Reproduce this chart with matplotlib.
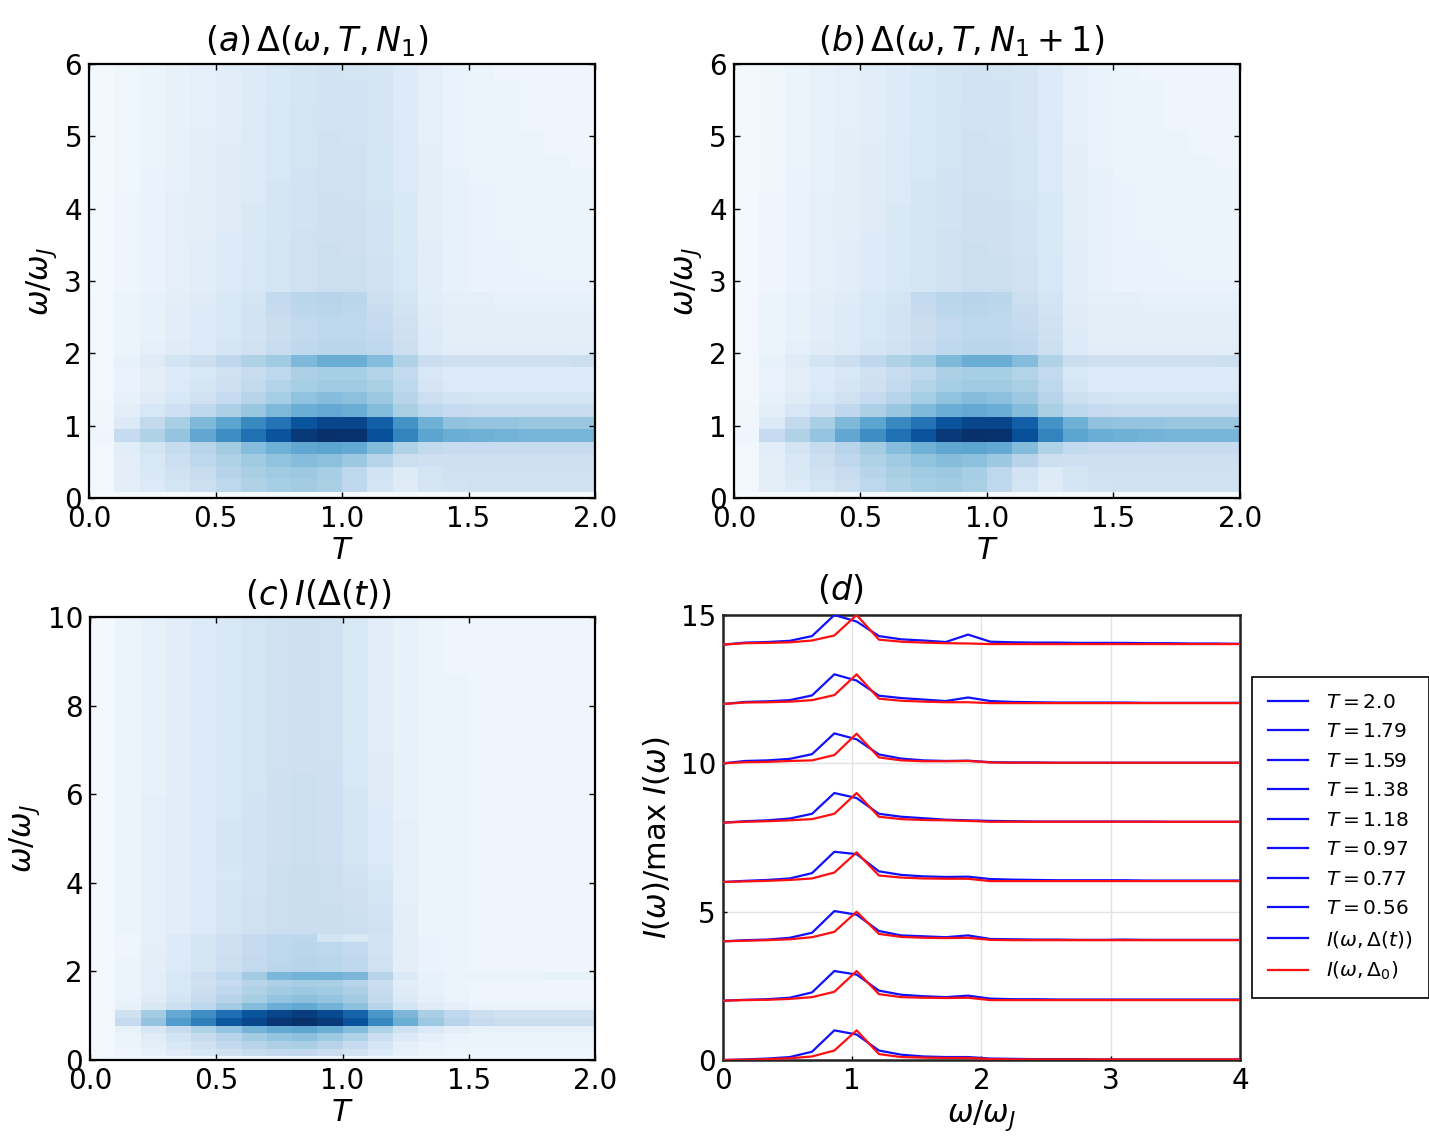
import numpy as np
import matplotlib
matplotlib.use('Agg')
import matplotlib.pyplot as plt
from matplotlib.lines import Line2D

plt.rcParams['font.family'] = ['DejaVu Sans']
plt.rcParams['mathtext.fontset'] = 'dejavusans'

# frequency step of the spectra (omega / omega_J)
d_omega = 0.1724
# temperature bins of the maps
T_edges = np.linspace(0.0, 2.0, 21)

# Delta(omega, T, N1): rows = omega bins (from 0 upward), columns = T bins, in % of max
delta_a = [
    [1, 1, 1, 1, 1, 1, 1, 1, 1, 1, 1, 1, 1, 1, 1, 1, 1, 1, 1, 1],
    [3, 10, 14, 18, 22, 28, 32, 35, 36, 34, 27, 18, 12, 17, 19, 20, 20, 20, 20, 20],
    [3, 10, 15, 20, 24, 30, 34, 37, 38, 35, 28, 19, 13, 18, 20, 20, 20, 20, 20, 20],
    [3, 10, 16, 22, 27, 32, 37, 41, 43, 42, 38, 30, 22, 21, 21, 21, 21, 21, 21, 21],
    [3, 11, 18, 24, 30, 36, 43, 49, 53, 54, 52, 44, 32, 26, 24, 24, 24, 24, 24, 24],
    [5, 25, 32, 40, 53, 64, 75, 86, 96, 100, 99, 88, 68, 54, 50, 49, 48, 47, 47, 47],
    [4, 14, 26, 34, 45, 54, 66, 74, 86, 92, 92, 82, 62, 49, 41, 40, 40, 39, 39, 39],
    [4, 10, 16, 21, 27, 33, 39, 45, 50, 52, 50, 44, 34, 28, 25, 24, 24, 24, 24, 24],
    [3, 8, 12, 16, 20, 25, 30, 35, 41, 43, 42, 38, 30, 22, 19, 18, 18, 18, 18, 18],
    [3, 7, 10, 14, 17, 21, 26, 31, 35, 37, 37, 34, 28, 17, 14, 14, 14, 14, 14, 14],
    [3, 7, 10, 13, 16, 20, 24, 28, 33, 35, 35, 31, 26, 16, 13, 13, 13, 13, 13, 13],
    [3, 8, 12, 18, 22, 27, 32, 37, 45, 50, 50, 44, 32, 23, 21, 21, 21, 21, 21, 22],
    [3, 6, 9, 12, 14, 17, 20, 24, 27, 29, 29, 27, 22, 13, 11, 11, 11, 11, 11, 11],
    [3, 6, 8, 11, 13, 16, 19, 23, 26, 28, 28, 26, 21, 13, 10, 10, 10, 10, 10, 10],
    [3, 6, 8, 11, 13, 16, 19, 23, 26, 28, 27, 25, 20, 12, 10, 10, 10, 10, 10, 10],
    [3, 6, 8, 11, 13, 16, 19, 24, 28, 29, 28, 24, 19, 12, 10, 10, 9, 9, 9, 9],
    [3, 6, 8, 10, 12, 15, 18, 26, 29, 30, 29, 22, 18, 11, 9, 9, 8, 8, 8, 8],
    [2, 5, 7, 9, 11, 13, 16, 18, 20, 22, 22, 20, 16, 11, 8, 7, 7, 7, 7, 7],
    [2, 5, 7, 9, 11, 13, 16, 18, 20, 22, 22, 20, 16, 11, 8, 7, 7, 7, 6, 6],
    [2, 5, 7, 9, 11, 13, 15, 18, 20, 22, 22, 20, 16, 11, 8, 7, 7, 6, 6, 6],
    [2, 5, 7, 9, 11, 13, 15, 18, 20, 22, 21, 19, 15, 11, 8, 7, 7, 6, 6, 6],
    [2, 5, 7, 9, 10, 13, 15, 17, 20, 21, 21, 19, 15, 10, 8, 7, 6, 6, 6, 6],
    [2, 5, 7, 9, 10, 12, 15, 17, 19, 21, 21, 19, 15, 10, 8, 7, 6, 6, 6, 6],
    [2, 5, 7, 9, 10, 12, 15, 17, 19, 21, 21, 19, 15, 10, 8, 7, 6, 6, 6, 6],
    [2, 5, 7, 9, 10, 12, 14, 17, 19, 21, 20, 18, 15, 10, 8, 7, 6, 6, 6, 6],
    [2, 4, 7, 8, 10, 12, 14, 17, 19, 20, 20, 18, 14, 10, 8, 7, 6, 6, 6, 6],
    [2, 4, 7, 8, 10, 12, 14, 16, 19, 20, 20, 18, 14, 10, 8, 6, 6, 6, 6, 6],
    [2, 4, 6, 8, 10, 12, 14, 16, 18, 20, 20, 18, 14, 10, 7, 6, 6, 6, 6, 5],
    [2, 4, 6, 8, 10, 12, 14, 16, 18, 20, 20, 18, 14, 10, 7, 6, 6, 6, 5, 5],
    [2, 4, 6, 8, 10, 11, 14, 16, 18, 20, 19, 17, 14, 9, 7, 6, 6, 6, 5, 5],
    [2, 4, 6, 8, 9, 11, 13, 16, 18, 19, 19, 17, 14, 9, 7, 6, 6, 5, 5, 5],
    [2, 4, 6, 8, 9, 11, 13, 16, 18, 19, 19, 17, 13, 9, 7, 6, 6, 5, 5, 5],
    [2, 4, 6, 8, 9, 11, 13, 15, 17, 19, 19, 17, 13, 9, 7, 6, 6, 5, 5, 5],
    [2, 4, 6, 8, 9, 11, 13, 15, 17, 19, 19, 17, 13, 9, 7, 6, 6, 5, 5, 5],
    [2, 4, 6, 8, 9, 11, 13, 15, 17, 19, 18, 17, 13, 9, 7, 6, 5, 5, 5, 5],
    [2, 4, 6, 8, 9, 11, 13, 15, 17, 18, 18, 16, 13, 9, 7, 6, 5, 5, 5, 5],
]

# Delta(omega, T, N1+1): reads the same as panel (a) in the picture
delta_b = [row[:] for row in delta_a]

# I(Delta(t)): rows = omega bins up to 10, columns = T bins, in % of max
intensity_c = [
    [2, 3, 3, 3, 3, 3, 3, 3, 3, 3, 3, 3, 3, 2, 2, 2, 2, 2, 2, 2],
    [2, 5, 8, 12, 16, 20, 24, 26, 26, 23, 19, 13, 8, 6, 5, 5, 5, 5, 5, 5],
    [2, 6, 10, 15, 20, 26, 30, 33, 34, 30, 25, 17, 10, 7, 6, 6, 6, 6, 6, 6],
    [2, 6, 12, 18, 24, 30, 36, 40, 42, 38, 32, 22, 14, 9, 7, 6, 6, 6, 6, 6],
    [2, 8, 16, 24, 32, 40, 48, 52, 54, 50, 44, 32, 20, 14, 10, 8, 8, 8, 8, 8],
    [3, 25, 40, 58, 70, 85, 92, 98, 100, 96, 87, 66, 50, 38, 30, 25, 23, 23, 23, 23],
    [3, 20, 36, 52, 64, 76, 86, 92, 95, 90, 80, 60, 46, 34, 27, 22, 20, 20, 20, 20],
    [2, 8, 15, 22, 28, 36, 44, 50, 52, 48, 42, 30, 18, 12, 9, 7, 7, 7, 7, 7],
    [2, 7, 12, 18, 24, 30, 35, 40, 42, 40, 36, 26, 14, 9, 7, 5, 5, 5, 5, 5],
    [2, 6, 11, 16, 22, 27, 32, 36, 38, 37, 33, 24, 12, 8, 6, 5, 5, 5, 5, 5],
    [2, 6, 10, 15, 20, 25, 30, 33, 35, 34, 30, 22, 11, 8, 6, 5, 5, 5, 5, 5],
    [2, 6, 11, 16, 22, 27, 36, 46, 48, 48, 46, 30, 14, 8, 7, 7, 7, 7, 8, 8],
    [2, 6, 10, 14, 18, 22, 26, 29, 30, 29, 27, 20, 10, 7, 6, 5, 5, 5, 5, 5],
    [2, 6, 10, 14, 18, 22, 26, 28, 30, 29, 27, 20, 10, 7, 6, 5, 5, 5, 5, 5],
    [2, 5, 10, 13, 17, 21, 25, 28, 29, 28, 26, 19, 10, 7, 6, 5, 5, 5, 5, 5],
    [2, 5, 9, 13, 17, 21, 25, 27, 29, 28, 26, 19, 10, 7, 6, 5, 5, 5, 5, 5],
    [2, 5, 9, 13, 17, 21, 25, 27, 28, 18, 15, 19, 10, 7, 6, 5, 5, 5, 5, 5],
    [2, 6, 9, 11, 14, 17, 20, 22, 23, 23, 22, 20, 10, 6, 6, 5, 5, 5, 5, 5],
    [2, 6, 9, 11, 14, 17, 20, 22, 23, 23, 22, 20, 10, 6, 6, 5, 5, 5, 5, 5],
    [2, 6, 9, 11, 14, 17, 20, 22, 23, 23, 22, 19, 10, 6, 6, 5, 5, 5, 5, 5],
    [2, 6, 9, 11, 14, 17, 20, 22, 23, 23, 21, 19, 10, 6, 6, 5, 5, 5, 5, 5],
    [2, 6, 9, 11, 14, 17, 20, 22, 23, 22, 21, 18, 9, 6, 6, 5, 5, 5, 5, 5],
    [2, 6, 9, 11, 14, 17, 19, 22, 23, 22, 21, 18, 9, 6, 6, 5, 5, 5, 5, 5],
    [2, 6, 9, 11, 14, 17, 19, 22, 23, 22, 20, 17, 9, 6, 6, 5, 5, 5, 5, 5],
    [2, 6, 9, 11, 14, 16, 19, 22, 23, 22, 20, 16, 9, 6, 6, 5, 5, 5, 5, 5],
    [2, 6, 9, 11, 14, 16, 19, 22, 23, 22, 19, 15, 9, 6, 6, 5, 5, 5, 5, 5],
    [2, 6, 9, 11, 14, 17, 19, 21, 22, 21, 18, 14, 9, 6, 6, 5, 5, 5, 5, 5],
    [2, 6, 9, 11, 14, 17, 19, 21, 22, 21, 18, 14, 9, 6, 6, 5, 5, 5, 5, 5],
    [2, 6, 9, 11, 14, 17, 19, 21, 22, 21, 18, 14, 9, 6, 6, 5, 5, 5, 5, 5],
    [2, 6, 9, 11, 14, 17, 19, 21, 22, 21, 18, 13, 9, 6, 6, 5, 5, 5, 5, 5],
    [2, 6, 9, 11, 14, 17, 19, 21, 22, 21, 17, 13, 9, 6, 6, 5, 5, 5, 5, 5],
    [2, 6, 9, 11, 14, 17, 19, 21, 22, 21, 17, 13, 9, 6, 6, 5, 5, 5, 5, 5],
    [2, 6, 9, 11, 14, 16, 19, 21, 22, 21, 17, 13, 8, 6, 6, 5, 5, 5, 5, 5],
    [2, 6, 9, 11, 14, 16, 19, 21, 22, 21, 17, 13, 8, 6, 6, 5, 5, 5, 5, 5],
    [2, 6, 9, 11, 14, 16, 19, 21, 22, 21, 17, 12, 8, 6, 6, 5, 5, 5, 5, 5],
    [2, 6, 8, 11, 14, 16, 18, 21, 22, 21, 17, 12, 8, 6, 6, 5, 5, 5, 5, 5],
    [2, 6, 8, 11, 14, 16, 18, 21, 22, 21, 16, 12, 8, 6, 6, 5, 5, 5, 5, 5],
    [2, 6, 8, 11, 13, 16, 18, 21, 22, 21, 16, 12, 8, 6, 6, 5, 5, 5, 5, 5],
    [2, 6, 8, 11, 13, 16, 18, 20, 21, 21, 16, 12, 8, 6, 6, 5, 5, 5, 5, 5],
    [2, 6, 8, 11, 13, 16, 18, 20, 21, 20, 16, 12, 8, 6, 6, 5, 5, 5, 5, 5],
    [2, 6, 8, 11, 13, 16, 18, 20, 21, 20, 16, 12, 8, 6, 6, 5, 5, 5, 5, 5],
    [2, 6, 8, 11, 13, 16, 18, 20, 21, 20, 16, 11, 8, 6, 6, 5, 5, 5, 5, 5],
    [2, 6, 8, 11, 13, 16, 18, 20, 21, 20, 15, 11, 8, 6, 6, 5, 5, 5, 5, 5],
    [2, 6, 8, 11, 13, 16, 18, 20, 21, 20, 15, 11, 8, 6, 6, 5, 5, 5, 5, 5],
    [2, 6, 8, 11, 13, 16, 18, 20, 21, 20, 15, 11, 8, 6, 6, 5, 5, 5, 5, 5],
    [2, 6, 8, 11, 13, 16, 18, 20, 21, 20, 15, 11, 8, 6, 6, 5, 5, 5, 5, 5],
    [2, 6, 8, 11, 13, 16, 18, 20, 21, 20, 15, 11, 8, 6, 6, 5, 5, 5, 5, 5],
    [2, 6, 8, 11, 13, 15, 18, 20, 21, 20, 15, 11, 8, 6, 6, 5, 5, 5, 5, 5],
    [2, 6, 8, 11, 13, 15, 18, 20, 21, 20, 15, 11, 8, 6, 6, 5, 5, 5, 5, 5],
    [2, 6, 8, 11, 13, 15, 18, 20, 21, 20, 15, 11, 8, 6, 6, 5, 5, 5, 5, 5],
    [2, 6, 8, 11, 13, 15, 18, 20, 21, 20, 15, 11, 8, 6, 6, 5, 5, 5, 5, 5],
    [2, 6, 8, 11, 13, 15, 18, 20, 21, 20, 15, 11, 8, 6, 5, 5, 5, 5, 5, 5],
    [2, 6, 8, 11, 13, 15, 18, 20, 21, 20, 15, 11, 8, 6, 5, 5, 5, 5, 5, 5],
    [2, 6, 8, 11, 13, 15, 18, 20, 21, 20, 15, 11, 8, 6, 5, 5, 5, 5, 5, 5],
    [2, 6, 8, 11, 13, 15, 18, 20, 21, 20, 15, 11, 8, 6, 5, 5, 5, 5, 5, 5],
    [2, 6, 8, 11, 13, 15, 18, 20, 21, 20, 15, 11, 8, 6, 5, 5, 5, 5, 5, 5],
    [2, 6, 8, 11, 13, 15, 18, 20, 21, 20, 15, 11, 8, 6, 5, 5, 5, 5, 5, 5],
    [2, 6, 8, 11, 13, 15, 18, 20, 21, 20, 15, 11, 8, 6, 5, 5, 5, 5, 5, 5],
    [2, 6, 8, 11, 13, 15, 18, 20, 21, 20, 15, 11, 8, 6, 5, 5, 5, 5, 5, 5],
]

# panel (d): normalised spectra, one per temperature, stacked with offsets
T_labels = ['2.0', '1.79', '1.59', '1.38', '1.18', '0.97', '0.77', '0.56']
offsets = [14, 12, 10, 8, 6, 4, 2, 0]
spec_blue = [
    [0, .07, .09, .13, .29, 1.0, .78, .29, .18, .14, .09, .34, .10, .08, .07, .07, .06, .06, .06, .05, .05, .04, .04, .03, .03],
    [0, .07, .09, .13, .29, 1.0, .79, .28, .20, .15, .10, .22, .10, .07, .06, .05, .05, .05, .05, .04, .04, .04, .04, .04, .04],
    [0, .08, .10, .15, .31, 1.01, .81, .30, .16, .10, .08, .09, .04, .03, .03, .02, .02, .02, .02, .02, .02, .02, .02, .02, .02],
    [0, .05, .08, .14, .30, 1.0, .83, .30, .20, .15, .10, .08, .06, .05, .04, .04, .04, .04, .04, .04, .03, .03, .03, .03, .03],
    [0, .04, .07, .12, .30, 1.02, .94, .36, .24, .19, .17, .18, .10, .08, .07, .06, .06, .06, .06, .05, .05, .05, .05, .05, .05],
    [0, .04, .06, .12, .29, 1.02, .90, .35, .20, .17, .14, .20, .08, .07, .06, .06, .05, .05, .06, .05, .05, .05, .05, .05, .05],
    [0, .03, .05, .10, .28, 1.0, .88, .34, .20, .15, .12, .17, .07, .05, .05, .04, .04, .04, .04, .04, .04, .04, .04, .04, .04],
    [0, .02, .05, .10, .28, 1.0, .86, .32, .18, .12, .10, .10, .05, .04, .03, .03, .03, .02, .02, .02, .02, .02, .02, .02, .02],
]
spec_red = [
    [0, .05, .06, .08, .14, .31, 1.0, .17, .10, .07, .05, .04, .02, .02, .02, .02, .02, .02, .02, .02, .02, .02, .02, .02, .02],
    [0, .05, .06, .08, .13, .30, 1.0, .18, .11, .08, .06, .06, .03, .03, .03, .03, .03, .03, .03, .03, .03, .03, .03, .03, .03],
    [0, .04, .05, .08, .10, .28, 1.0, .20, .10, .07, .07, .08, .03, .02, .02, .02, .02, .02, .02, .02, .02, .02, .02, .02, .02],
    [0, .03, .05, .08, .12, .30, 1.0, .20, .12, .09, .08, .06, .03, .03, .03, .03, .03, .03, .03, .03, .03, .03, .03, .03, .03],
    [0, .02, .04, .07, .12, .32, 1.0, .22, .15, .12, .11, .11, .03, .03, .03, .03, .03, .03, .03, .03, .03, .03, .03, .03, .03],
    [0, .02, .04, .07, .14, .32, 1.0, .25, .15, .12, .11, .12, .05, .04, .04, .04, .04, .04, .04, .04, .04, .04, .04, .04, .04],
    [0, .02, .03, .06, .12, .30, 1.0, .22, .12, .10, .09, .10, .02, .02, .02, .02, .02, .02, .02, .02, .02, .02, .02, .02, .02],
    [0, .01, .03, .06, .12, .32, 1.0, .20, .10, .08, .07, .07, .03, .02, .02, .02, .02, .02, .02, .02, .02, .02, .02, .02, .02],
]


def omega_edges(n_rows):
    # cells are centred on k * d_omega
    return (np.arange(n_rows + 1) - 0.5) * d_omega


def style_axes(ax):
    ax.tick_params(direction='in', top=True, right=True, length=4, width=1,
                   labelsize=20, pad=5)
    for sp in ax.spines.values():
        sp.set_linewidth(1.6)
        sp.set_color('black')


def draw_map(ax, data, ymax, yticks, title, title_x, ypad):
    z = np.array(data, dtype=float)
    ax.pcolormesh(T_edges, omega_edges(z.shape[0]), z, cmap='Blues',
                  vmin=0, vmax=100, shading='flat')
    ax.set_xlim(0, 2)
    ax.set_ylim(0, ymax)
    ax.set_xticks([0, 0.5, 1.0, 1.5, 2.0])
    ax.set_xticklabels(['0.0', '0.5', '1.0', '1.5', '2.0'])
    ax.set_yticks(yticks)
    ax.set_xlabel(r'$T$', fontsize=22, labelpad=2)
    ax.set_ylabel(r'$\omega/\omega_J$', fontsize=22, labelpad=ypad)
    ax.text(title_x, 1.012, title, transform=ax.transAxes, ha='center',
            va='bottom', fontsize=24)
    style_axes(ax)


fig = plt.figure(figsize=(14.29, 11.37), dpi=100)
ax_a = fig.add_axes([0.0623, 0.562, 0.3541, 0.3817])
ax_b = fig.add_axes([0.5136, 0.562, 0.3541, 0.3817])
ax_c = fig.add_axes([0.0630, 0.0677, 0.3534, 0.3896])
ax_d = fig.add_axes([0.5059, 0.0677, 0.3618, 0.3914])

draw_map(ax_a, delta_a, 6, range(7), r'$(a)\,\Delta(\omega,T,N_1)$', 0.45, 4)
draw_map(ax_b, delta_b, 6, range(7), r'$(b)\,\Delta(\omega,T,N_1+1)$', 0.449, 4)
draw_map(ax_c, intensity_c, 10, [0, 2, 4, 6, 8, 10], r'$(c)\,I(\Delta(t))$', 0.453, 4)

# panel (d)
w = np.arange(len(spec_blue[0])) * d_omega
handles = []
for lab, off, yb, yr in zip(T_labels, offsets, spec_blue, spec_red):
    hb, = ax_d.plot(w, np.array(yb) + off, color='#1010ff', lw=1.6,
                    label=r'$T = %s$' % lab, zorder=3)
    ax_d.plot(w, np.array(yr) + off, color='#ff1010', lw=1.6, zorder=3)
    handles.append(hb)
handles.append(Line2D([], [], color='#1010ff', lw=1.6,
                      label=r'$I(\omega,\Delta(t))$'))
handles.append(Line2D([], [], color='#ff1010', lw=1.6,
                      label=r'$I(\omega,\Delta_0)$'))

ax_d.set_xlim(0, 4)
ax_d.set_ylim(0, 15)
ax_d.set_xticks([0, 1, 2, 3, 4])
ax_d.set_yticks([0, 5, 10, 15])
ax_d.grid(True, color='#e3e3e3', lw=1)
ax_d.set_axisbelow(True)
ax_d.set_xlabel(r'$\omega/\omega_J$', fontsize=22, labelpad=2)
ax_d.set_ylabel(r'$I(\omega)/\mathrm{max}\ I(\omega)$', fontsize=22, labelpad=6)
ax_d.text(0.226, 1.018, r'$(d)$', transform=ax_d.transAxes, ha='center',
          va='bottom', fontsize=24)
ax_d.tick_params(direction='in', length=3, width=1, labelsize=20, pad=5)
for sp in ax_d.spines.values():
    sp.set_linewidth(1.8)
    sp.set_color('#222222')

leg = ax_d.legend(handles=handles, loc='center left',
                  bbox_to_anchor=(1.023, 0.5), borderaxespad=0,
                  fontsize=14.5, frameon=True, fancybox=False,
                  edgecolor='black', framealpha=1, handlelength=2.0,
                  labelspacing=0.52, borderpad=0.8, handletextpad=0.9)
leg.get_frame().set_linewidth(1.2)

fig.savefig('out.png', dpi=100)
